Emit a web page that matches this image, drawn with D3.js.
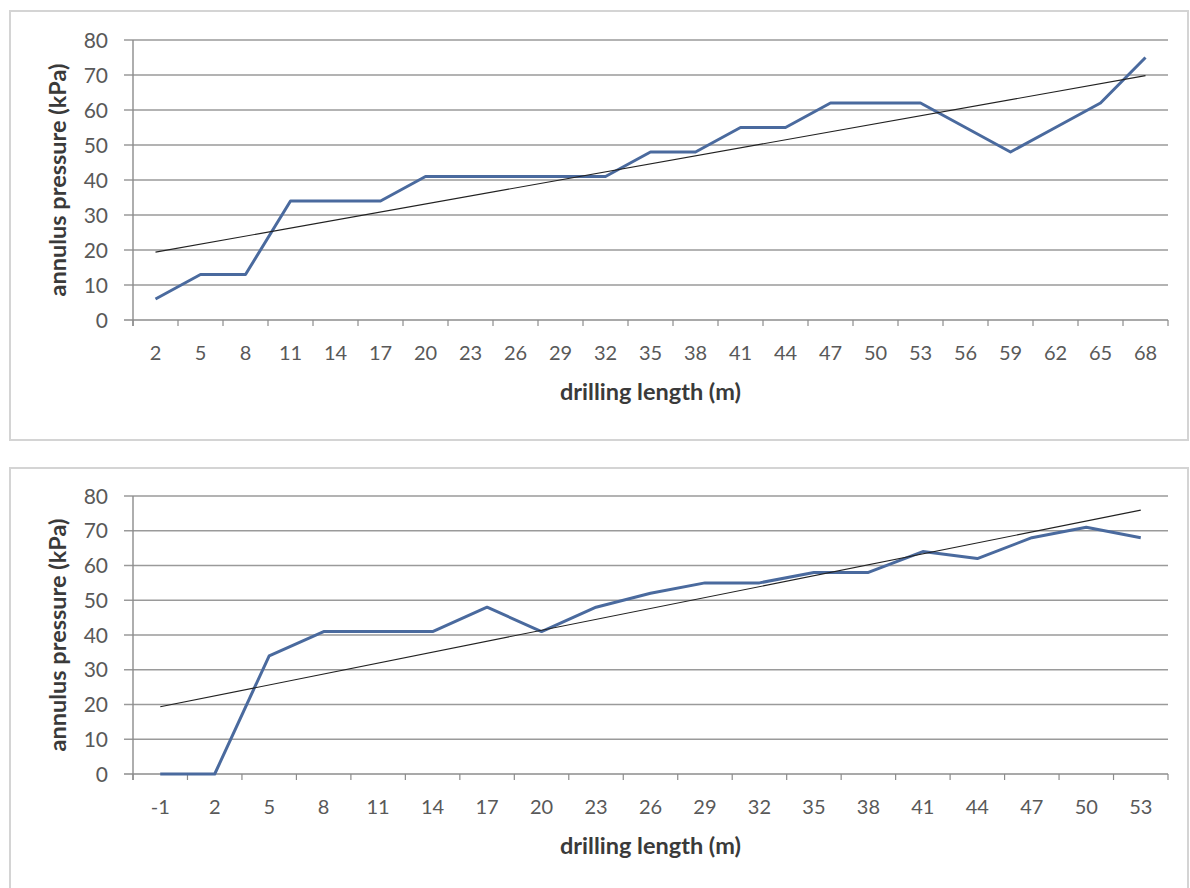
<!DOCTYPE html>
<html>
<head>
<meta charset="utf-8">
<script src="https://cdn.jsdelivr.net/npm/d3@7"></script>
<style>
  html, body { margin: 0; padding: 0; background: #fff; }
  svg { display: block; font-family: Lato, "Open Sans", sans-serif; }
</style>
</head>
<body>
<svg id="chart" width="1190" height="888"></svg>
<script>
// top panel: drilling length (m) vs annulus pressure (kPa)
const topLengths = [2, 5, 8, 11, 14, 17, 20, 23, 26, 29, 32, 35, 38, 41, 44, 47, 50, 53, 56, 59, 62, 65, 68];
const topPressure = [6, 13, 13, 34, 34, 34, 41, 41, 41, 41, 41, 48, 48, 55, 55, 62, 62, 62, 55, 48, 55, 62, 75];

// bottom panel
const bottomLengths = [-1, 2, 5, 8, 11, 14, 17, 20, 23, 26, 29, 32, 35, 38, 41, 44, 47, 50, 53];
const bottomPressure = [0, 0, 34, 41, 41, 41, 48, 41, 48, 52, 55, 55, 58, 58, 64, 62, 68, 71, 68];

const yTicks = [0, 10, 20, 30, 40, 50, 60, 70, 80];

const svg = d3.select('#chart');

const panels = [
  { lengths: topLengths, values: topPressure, box: [10, 11, 1188, 440], plot: { top: 40, bottom: 320 } },
  { lengths: bottomLengths, values: bottomPressure, box: [10, 468, 1188, 900], plot: { top: 496, bottom: 774 } },
];

const plotLeft = 133;
const plotRight = 1168;
const lineColor = '#4a6a9e';

// least squares fit on category index, like a spreadsheet linear trendline
function trend(values) {
  const xs = values.map((_, i) => i + 1);
  const mx = d3.mean(xs);
  const my = d3.mean(values);
  const slope = d3.sum(xs, (x, i) => (x - mx) * (values[i] - my)) / d3.sum(xs, (x) => (x - mx) ** 2);
  return (x) => my + slope * (x - mx);
}

panels.forEach(({ lengths, values, box, plot }) => {
  const [bx0, by0, bx1, by1] = box;
  svg.append('rect')
    .attr('x', bx0).attr('y', by0)
    .attr('width', bx1 - bx0).attr('height', by1 - by0)
    .attr('fill', '#fff')
    .attr('stroke', '#d4d4d4')
    .attr('stroke-width', 2);

  const x = d3.scaleBand().domain(lengths).range([plotLeft, plotRight]);
  const y = d3.scaleLinear().domain([0, 80]).range([plot.bottom, plot.top]);
  const cx = (d) => x(d) + x.bandwidth() / 2;

  // horizontal gridlines + y ticks
  const grid = svg.append('g');
  yTicks.forEach((t) => {
    grid.append('line')
      .attr('x1', plotLeft - 9).attr('x2', plotRight)
      .attr('y1', y(t)).attr('y2', y(t))
      .attr('stroke', t === 0 ? '#8c8c8c' : '#9a9a9a')
      .attr('stroke-width', 1.4);
    grid.append('text')
      .attr('x', 108).attr('y', y(t))
      .attr('dy', '0.36em')
      .attr('text-anchor', 'end')
      .attr('font-size', 21)
      .attr('fill', '#595959')
      .text(t);
  });

  // y axis line
  svg.append('line')
    .attr('x1', plotLeft).attr('x2', plotLeft)
    .attr('y1', plot.top).attr('y2', plot.bottom + 6)
    .attr('stroke', '#8c8c8c').attr('stroke-width', 1.4);

  // x tick marks between categories
  const tickXs = lengths.map((d) => x(d) + x.bandwidth()).concat([plotLeft]);
  tickXs.forEach((tx) => {
    svg.append('line')
      .attr('x1', tx).attr('x2', tx)
      .attr('y1', plot.bottom).attr('y2', plot.bottom + 6)
      .attr('stroke', '#8c8c8c').attr('stroke-width', 1.2);
  });

  lengths.forEach((d) => {
    svg.append('text')
      .attr('x', cx(d)).attr('y', plot.bottom + 33)
      .attr('dy', '0.36em')
      .attr('text-anchor', 'middle')
      .attr('font-size', 20)
      .attr('fill', '#595959')
      .text(d);
  });

  svg.append('text')
    .attr('x', (plotLeft + plotRight) / 2).attr('y', plot.bottom + 72)
    .attr('dy', '0.36em')
    .attr('text-anchor', 'middle')
    .attr('font-size', 23.5)
    .attr('font-weight', 'bold')
    .attr('fill', '#3a3a3a')
    .text('drilling length (m)');

  svg.append('text')
    .attr('transform', `translate(58,${(plot.top + plot.bottom) / 2}) rotate(-90)`)
    .attr('dy', '0.36em')
    .attr('text-anchor', 'middle')
    .attr('font-size', 23.5)
    .attr('font-weight', 'bold')
    .attr('fill', '#3a3a3a')
    .text('annulus pressure (kPa)');

  // data line
  const line = d3.line().x((d) => cx(d[0])).y((d) => y(d[1]));
  svg.append('path')
    .attr('d', line(lengths.map((l, i) => [l, values[i]])))
    .attr('fill', 'none')
    .attr('stroke', lineColor)
    .attr('stroke-width', 3)
    .attr('stroke-linejoin', 'round');

  // linear trendline
  const f = trend(values);
  const n = lengths.length;
  svg.append('line')
    .attr('x1', cx(lengths[0])).attr('y1', y(f(1)))
    .attr('x2', cx(lengths[n - 1])).attr('y2', y(f(n)))
    .attr('stroke', '#222')
    .attr('stroke-width', 1.1);
});
</script>
</body>
</html>
